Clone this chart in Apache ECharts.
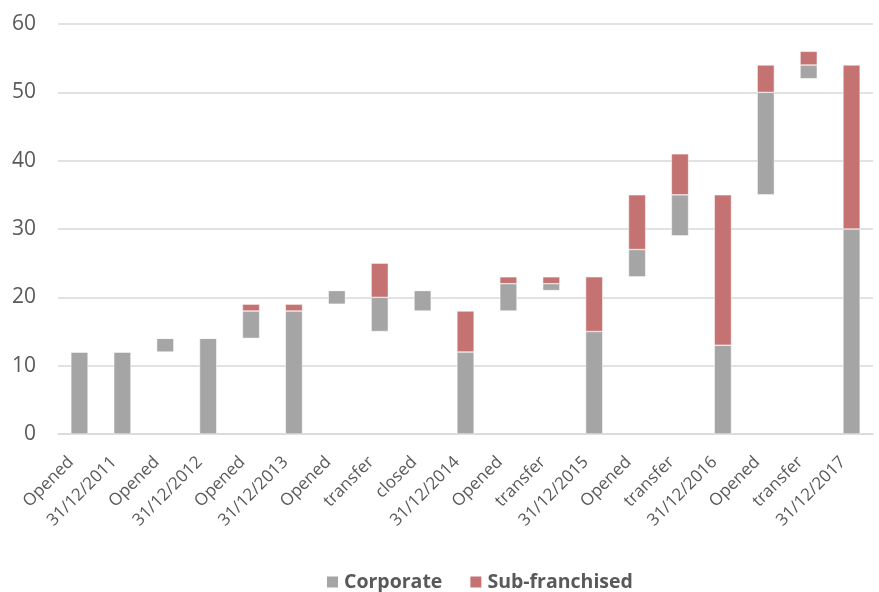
<!DOCTYPE html>
<html>
<head>
<meta charset="utf-8">
<script src="https://cdn.jsdelivr.net/npm/echarts@6/dist/echarts.min.js"></script>
<style>
  html, body { margin: 0; padding: 0; background: #fff; }
  #chart { width: 879px; height: 592px; }
</style>
</head>
<body>
<div id="chart"></div>
<script>
// Store count bridge: each step floats on an invisible base
const categories = ['Opened', '31/12/2011', 'Opened', '31/12/2012', 'Opened', '31/12/2013',
  'Opened', 'transfer', 'closed', '31/12/2014', 'Opened', 'transfer', '31/12/2015',
  'Opened', 'transfer', '31/12/2016', 'Opened', 'transfer', '31/12/2017'];
const baseValues      = [0, 0, 12, 0, 14, 0, 19, 15, 18, 0, 18, 21, 0, 23, 29, 0, 35, 52, 0];
const corporate       = [12, 12, 2, 14, 4, 18, 2, 5, 3, 12, 4, 1, 15, 4, 6, 13, 15, 2, 30];
const subFranchised   = [0, 0, 0, 0, 1, 1, 0, 5, 0, 6, 1, 1, 8, 8, 6, 22, 4, 2, 24];
const yTicks = [0, 10, 20, 30, 40, 50, 60];

const FONT = '"Open Sans", "Noto Sans", sans-serif';
const TEXT = '#595959';

const chart = echarts.init(document.getElementById('chart'), null, { renderer: 'canvas' });
chart.setOption({
  animation: false,
  backgroundColor: '#ffffff',
  grid: { left: 58, right: 6, top: 24, bottom: 158, containLabel: false },
  legend: {
    data: ['Corporate', 'Sub-franchised'],
    top: 567,
    left: 320,
    itemWidth: 13,
    itemHeight: 13,
    itemGap: 26,
    icon: 'rect',
    textStyle: { color: TEXT, fontSize: 19.5, fontWeight: 'bold', fontFamily: FONT }
  },
  xAxis: {
    type: 'category',
    data: categories,
    axisLine: { lineStyle: { color: '#d9d9d9', width: 1.5 } },
    axisTick: { show: false },
    axisLabel: {
      interval: 0,
      rotate: 45,
      margin: 17,
      padding: [0, 12, 0, 0],
      color: TEXT,
      fontSize: 17,
      fontFamily: FONT
    }
  },
  yAxis: {
    type: 'value',
    min: yTicks[0],
    max: yTicks[yTicks.length - 1],
    interval: 10,
    axisLine: { show: false },
    axisTick: { show: false },
    splitLine: { lineStyle: { color: '#d9d9d9', width: 1.5 } },
    axisLabel: { color: TEXT, fontSize: 21, fontFamily: FONT, margin: 22 }
  },
  series: [
    {
      name: 'base',
      type: 'bar',
      stack: 'total',
      data: baseValues,
      itemStyle: { color: 'rgba(0,0,0,0)' },
      emphasis: { disabled: true },
      barWidth: '40%'
    },
    {
      name: 'Corporate',
      type: 'bar',
      stack: 'total',
      data: corporate,
      itemStyle: { color: '#a5a5a5', borderColor: '#ffffff', borderWidth: 0.5 },
      barWidth: '40%'
    },
    {
      name: 'Sub-franchised',
      type: 'bar',
      stack: 'total',
      data: subFranchised,
      itemStyle: { color: '#c47272', borderColor: '#ffffff', borderWidth: 0.5 },
      barWidth: '40%'
    }
  ]
});
</script>
</body>
</html>
